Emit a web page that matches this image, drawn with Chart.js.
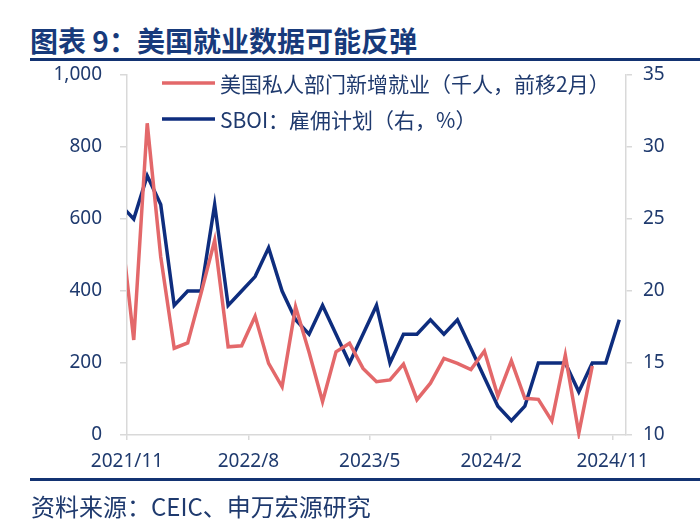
<!DOCTYPE html>
<html>
<head>
<meta charset="utf-8">
<title>图表 9：美国就业数据可能反弹</title>
<script src="https://cdn.jsdelivr.net/npm/chart.js@4.4.1/dist/chart.umd.min.js"></script>
<style>
  body { margin: 0; background: #fff; }
  #wrap { position: relative; width: 700px; height: 528px; overflow: hidden; }
  #chart { position: absolute; left: 0; top: 0; }
  .title { position: absolute; left: 30px; top: 26px; font: bold 28px/28px "Noto Sans CJK SC", sans-serif; color: #173a7b; white-space: nowrap; }
  .rule { position: absolute; left: 30px; right: 0; height: 3px; background: #133372; }
  .source { position: absolute; left: 31px; top: 494px; font: 24px/24px "Noto Sans CJK SC", sans-serif; color: #1f3a6e; white-space: nowrap; }
</style>
</head>
<body>
<div id="wrap">
  <div class="title">图表 9：美国就业数据可能反弹</div>
  <div class="rule" style="top:58px"></div>
  <canvas id="chart" width="700" height="528"></canvas>
  <div class="rule" style="top:478px"></div>
  <div class="source">资料来源：CEIC、申万宏源研究</div>
</div>
<script>
(function () {
  'use strict'

  // months on the axis; the first one sits just left of the plot and is clipped
  var months = [
    '2021/10', '2021/11', '2021/12',
    '2022/1', '2022/2', '2022/3', '2022/4', '2022/5', '2022/6',
    '2022/7', '2022/8', '2022/9', '2022/10', '2022/11', '2022/12',
    '2023/1', '2023/2', '2023/3', '2023/4', '2023/5', '2023/6',
    '2023/7', '2023/8', '2023/9', '2023/10', '2023/11', '2023/12',
    '2024/1', '2024/2', '2024/3', '2024/4', '2024/5', '2024/6',
    '2024/7', '2024/8', '2024/9', '2024/10', '2024/11'
  ];
  var tickLabels = ['2021/11', '2022/8', '2023/5', '2024/2', '2024/11'];

  // 美国私人部门新增就业（千人，前移2月）
  var privateJobs = [
    600, 264, 866, 495, 241, 256, 395, 541, 245, 248,
    330, 199, 134, 356, 230, 93, 231, 255, 185, 148,
    153, 197, 98, 144, 213, 199, 182, 233, 108, 206,
    102, 99, 39, 222, 5, 192, null, null
  ];
  // SBOI：雇佣计划（右，%）
  var sboiHiring = [
    26, 25, 28, 26, 19, 20, 20, 26, 19, 20,
    21, 23, 20, 18, 17, 19, 17, 15, 17, 19,
    15, 17, 17, 18, 17, 18, 16, 14, 12, 11,
    12, 15, 15, 15, 13, 15, 15, 18
  ];

  var navy = '#1f3a6e';
  var axisGrey = '#d9d9d9';
  var tickFont = { family: '"Noto Sans", sans-serif', size: 19 };

  function points(values) {
    return values.map(function (v, i) { return { x: i, y: v }; });
  }

  // tick marks sit on month boundaries, labelled with the month to their right
  var tickPos = tickLabels.map(function (l) { return months.indexOf(l) - 0.5; });

  var insideLegend = {
    id: 'insideLegend',
    afterDraw: function (chart) {
      var ctx = chart.ctx;
      var a = chart.chartArea;
      ctx.save();
      ctx.font = '21px "Noto Sans CJK SC", sans-serif';
      ctx.textBaseline = 'middle';
      chart.data.datasets.forEach(function (ds, i) {
        var y = a.top + 8 + i * 36;
        ctx.strokeStyle = ds.borderColor;
        ctx.lineWidth = 3.5;
        ctx.beginPath();
        ctx.moveTo(a.left + 35, y);
        ctx.lineTo(a.left + 88, y);
        ctx.stroke();
        ctx.fillStyle = navy;
        ctx.fillText(ds.label, a.left + 93, y + 1);
      });
      ctx.restore();
    }
  };

  var ctx = document.getElementById('chart').getContext('2d');
  // eslint-disable-next-line no-unused-vars
  var myChart = new Chart(ctx, {
    type: 'line',
    data: {
      datasets: [{
        label: '美国私人部门新增就业（千人，前移2月）',
        data: points(privateJobs),
        yAxisID: 'y',
        borderColor: '#e3686a',
        borderWidth: 3.5,
        pointRadius: 0,
        clip: { left: 0, right: 0, top: 4, bottom: 4 }
      }, {
        label: 'SBOI：雇佣计划（右，%）',
        data: points(sboiHiring),
        yAxisID: 'y1',
        borderColor: '#0e2d7e',
        borderWidth: 3.5,
        pointRadius: 0,
        clip: { left: 0, right: 0, top: 4, bottom: 4 }
      }]
    },
    options: {
      responsive: false,
      animation: false,
      layout: { padding: { top: 75, left: 0, right: 0, bottom: 0 } },
      plugins: {
        legend: { display: false },
        tooltip: { enabled: false }
      },
      scales: {
        x: {
          type: 'linear',
          min: 0.5,
          max: months.length - 0.5,
          afterBuildTicks: function (s) {
            s.ticks = tickPos.map(function (v) { return { value: v }; });
          },
          afterFit: function (s) { s.height = 93; },
          ticks: {
            autoSkip: false,
            maxRotation: 0,
            padding: 10,
            color: navy,
            font: tickFont,
            callback: function (v) { return months[Math.round(v + 0.5)]; }
          },
          grid: { drawOnChartArea: false, tickLength: 5, color: axisGrey, lineWidth: 1.5 },
          border: { color: axisGrey, width: 1.5 }
        },
        y: {
          position: 'left',
          min: 0,
          max: 1000,
          afterFit: function (s) { s.width = 127; },
          ticks: { stepSize: 200, padding: 18, color: navy, font: tickFont },
          grid: { drawOnChartArea: false, tickLength: 7, color: axisGrey, lineWidth: 1.5 },
          border: { color: axisGrey, width: 1.5 }
        },
        y1: {
          position: 'right',
          min: 10,
          max: 35,
          afterFit: function (s) { s.width = 74; },
          ticks: { stepSize: 5, padding: 11, color: navy, font: tickFont },
          grid: { drawOnChartArea: false, tickLength: 6, color: axisGrey, lineWidth: 1.5 },
          border: { color: axisGrey, width: 1.5 }
        }
      }
    },
    plugins: [insideLegend]
  })
}())
</script>
</body>
</html>
